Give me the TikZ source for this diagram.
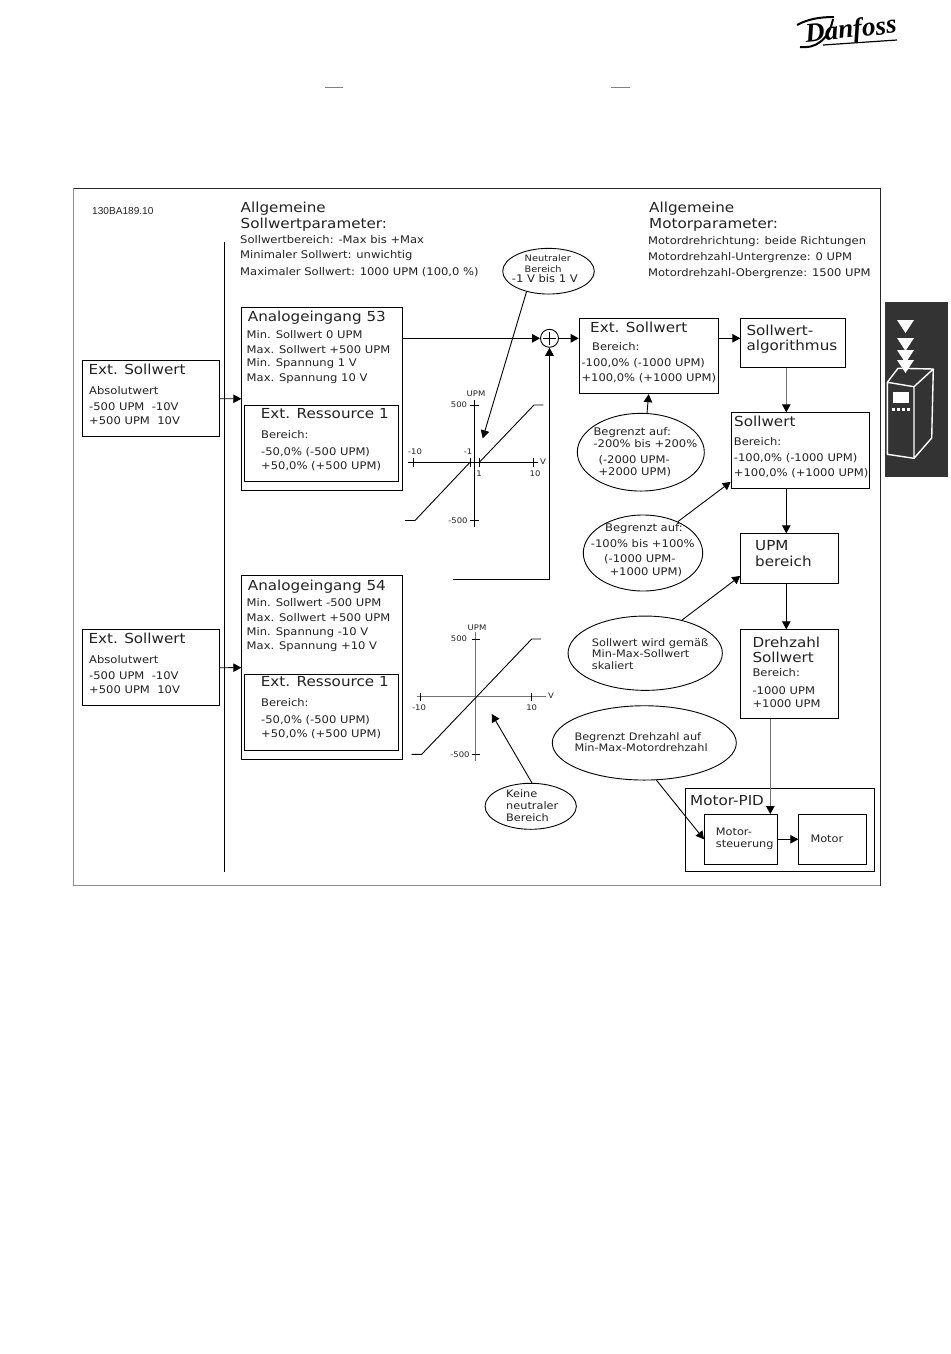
\documentclass[tikz,border=0pt]{standalone}
\usepackage{fontspec}
\setmainfont{DejaVu Sans}[FakeStretch=1.1]
\newfontfamily\codefont{Liberation Sans}
\newfontfamily\logofont{Liberation Serif}
\usetikzlibrary{shapes.geometric, arrows.meta}

\definecolor{inktxt}{HTML}{222222}
\definecolor{tabgrey}{HTML}{333333}

\tikzset{
    box/.style = {draw, rectangle, anchor = north west, inner sep = 0pt, line width = 0.9pt},
    oval/.style = {draw, ellipse, inner sep = 0pt, line width = 0.9pt},
    arr/.style = {-{Triangle[length = 8pt, width = 8.5pt, color = black]}, line width = 0.9pt},
    greyarr/.style = {arr, draw = black!55},
    head/.style = {anchor = base west, inner sep = 0pt, text = inktxt, font = \fontsize{13.8}{16}\selectfont},
    body/.style = {anchor = base west, inner sep = 0pt, text = inktxt, font = \fontsize{10.5}{12}\selectfont},
    note/.style = {anchor = base west, inner sep = 0pt, text = inktxt, font = \fontsize{10.3}{12}\selectfont},
    tick/.style = {anchor = center, inner sep = 0pt, text = inktxt, font = \fontsize{7.7}{9}\selectfont}
}

\begin{document}
\begin{tikzpicture}[x = 1pt, y = -1pt]
            \useasboundingbox (0,0) rectangle (950,1354);
            % page furniture
            \draw[black!50, line width = 0.9pt] (325,87) -- (343,87) (611,87) -- (630,87);
            \node[anchor = center, inner sep = 0pt, rotate = 6, font = \logofont\bfseries\itshape\fontsize{27}{27}\selectfont] (logo) at (851,31) {Danfoss};
            \draw[line width = 1.2pt] (823,45) -- (897,40);
            \draw[line width = 2pt] (797,25) .. controls (808,19) and (820,17) .. (834,17);
            \draw[line width = 2pt] (800,47) .. controls (815,49) and (829,40) .. (833,19);
            \fill[tabgrey] (885,302) rectangle (948,477);
            \foreach \y in {320,338,350,360}
                \fill[white] (897,\y) -- (914,\y) -- (905.5,\y+13) -- cycle;
            \draw[white, line width = 1.4pt, line join = round] (887.3,382.3) -- (914,386.7) -- (914,458.3) -- (887.3,454.3) -- cycle
                (887.3,382.3) -- (898,368.3) -- (933.3,369) -- (914,386.7) (933.3,369) -- (931.7,438) -- (914,458.3);
            \fill[white] (892.7,391.7) rectangle (909.3,403);
            \foreach \x in {892,897,902,907}
                \fill[white] (\x,407.5) rectangle (\x+3,411);

            % frame and divider
            \draw[black!45, line width = 1.3pt] (73.5,188.5) rectangle (880.5,885.5);
            \draw[black!85, line width = 0.8pt] (73.5,188.5) -- (880.5,188.5) -- (880.5,885.5);
            \draw[line width = 0.9pt] (224.3,241.7) -- (224.3,871.7);
            \node[anchor = base west, inner sep = 0pt, text = inktxt, font = \codefont\fontsize{10.1}{12}\selectfont] (code) at (92,214) {130BA189.10};

            % general parameters
            \node[head] (gen1a) at (240.5,212.3) {Allgemeine};
            \node[head] (gen1b) at (240.5,228.3) {Sollwertparameter:};
            \foreach \y/\t [count = \i] in {243.3/Sollwertbereich: -Max bis +Max, 258.3/Minimaler Sollwert: unwichtig, 275.7/Maximaler Sollwert: 1000 UPM (100{,}0 \%)}
                \node[body] (gen1l\i) at (240,\y) {\t};
            \node[head] (gen2a) at (649,212.3) {Allgemeine};
            \node[head] (gen2b) at (649,228.3) {Motorparameter:};
            \foreach \y/\t [count = \i] in {244.3/Motordrehrichtung: beide Richtungen, 260/Motordrehzahl-Untergrenze: 0 UPM, 276.7/Motordrehzahl-Obergrenze: 1500 UPM}
                \node[body] (gen2l\i) at (648,\y) {\t};

            % left inputs
            \foreach \n/\d in {1/0, 2/269} {
                \node[box, minimum width = 137, minimum height = 76] (ext\n) at (82.3,360.3+\d) {};
                \node[head] (ext\n h) at (88.3,374.3+\d) {Ext. Sollwert};
                \node[body] (ext\n a) at (89,394.3+\d) {Absolutwert};
                \node[body] (ext\n b) at (89,410.6+\d) {-500 UPM\ \ -10V};
                \node[body] (ext\n c) at (89,424.6+\d) {+500 UPM\ \ 10V};
            }

            % analog inputs
            \node[box, minimum width = 161, minimum height = 183.3] (ain53) at (241.3,306.7) {};
            \node[box, minimum width = 161, minimum height = 184.3] (ain54) at (241.3,575) {};
            \node[head] (ain53h) at (247.7,321) {Analogeingang 53};
            \node[head] (ain54h) at (247.7,590) {Analogeingang 54};
            \foreach \y/\t [count = \i] in {338.3/Min. Sollwert 0 UPM, 353/Max. Sollwert +500 UPM, 366.7/Min. Spannung 1 V, 381/Max. Spannung 10 V}
                \node[body] (ain53l\i) at (246.5,\y) {\t};
            \foreach \y/\t [count = \i] in {606.7/Min. Sollwert -500 UPM, 621.3/Max. Sollwert +500 UPM, 635/Min. Spannung -10 V, 649.3/Max. Spannung +10 V}
                \node[body] (ain54l\i) at (246.5,\y) {\t};
            \foreach \n/\d in {1/0, 2/268.3} {
                \node[box, minimum width = 153.4, minimum height = 76] (res\n) at (244.3,405.3+\d) {};
                \node[head] (res\n h) at (260.7,418+\d) {Ext. Ressource 1};
                \node[body] (res\n a) at (261,438.3+\d) {Bereich:};
                \node[body] (res\n b) at (261,455+\d) {-50{,}0\% (-500 UPM)};
                \node[body] (res\n c) at (261,469.3+\d) {+50{,}0\% (+500 UPM)};
            }
            \draw[arr] (ext1.east) -- (ain53.west);
            \draw[arr] (ext2.east) -- (ain54.west);

            % characteristic 53
            \draw[line width = 0.9pt] (474.3,400) -- (474.3,526.7) (408.3,462.3) -- (538,462.3);
            \draw[line width = 0.9pt] (470,405) -- (478.5,405) (470,520.7) -- (478.5,520.7);
            \foreach \x in {413.3,470,479.3,533}
                \draw[line width = 0.9pt] (\x,458) -- (\x,466.5);
            \draw[line width = 0.9pt] (405,520.5) -- (415,520.5) -- (470,462.3) (479.3,462.3) -- (534,405) -- (543.3,405);
            \node[tick] (a1) at (476,394) {UPM};
            \node[tick] (a2) at (459,405) {500};
            \node[tick] (a3) at (458,521) {-500};
            \node[tick] (a4) at (415,452) {-10};
            \node[tick] (a5) at (468,452) {-1};
            \node[tick] (a6) at (479,474) {1};
            \node[tick] (a7) at (535,474) {10};
            \node[tick] (a8) at (543,462) {V};

            % characteristic 54
            \draw[black!55, line width = 1.1pt] (475.7,631.7) -- (475.7,761) (416.7,696.7) -- (546,696.7);
            \draw[line width = 0.9pt] (471.5,639) -- (480,639) (471.5,754.3) -- (480,754.3) (420.7,692.5) -- (420.7,700.5) (531.7,692.5) -- (531.7,700.5);
            \draw[line width = 0.9pt] (411.7,754.3) -- (421.7,754.3) -- (531.7,639) -- (541,639);
            \node[tick] (b1) at (477,628) {UPM};
            \node[tick] (b2) at (459,639) {500};
            \node[tick] (b3) at (460,754.5) {-500};
            \node[tick] (b4) at (419,708) {-10};
            \node[tick] (b5) at (531.7,708) {10};
            \node[tick] (b6) at (551,696) {V};

            % summing point and right chain
            \node[draw, circle, inner sep = 0pt, minimum size = 18, line width = 0.9pt] (sum) at (549.5,338.3) {};
            \draw[line width = 0.9pt] ([xshift = 3]sum.west) -- ([xshift = -3]sum.east) ([yshift = -3]sum.north) -- ([yshift = 3]sum.south);
            \node[box, minimum width = 139, minimum height = 75.6] (extsw) at (578.7,317.7) {};
            \node[box, minimum width = 104.7, minimum height = 49.6] (alg) at (740.3,317.7) {};
            \node[box, minimum width = 138.6, minimum height = 75.7] (soll) at (730.7,412.3) {};
            \node[box, minimum width = 98, minimum height = 50] (upm) at (740.3,533.3) {};
            \node[box, minimum width = 98, minimum height = 89] (dreh) at (740.3,629.3) {};
            \node[box, minimum width = 189, minimum height = 82.7] (pid) at (685.3,788.3) {};
            \node[box, minimum width = 73, minimum height = 49.7] (mctl) at (704,814) {};
            \node[box, minimum width = 67.4, minimum height = 49.7] (mot) at (798.3,814) {};

            \node[head] (extswh) at (590,332.7) {Ext. Sollwert};
            \node[body] (extswa) at (592,350) {Bereich:};
            \node[body] (extswb) at (581.3,366.7) {-100{,}0\% (-1000 UPM)};
            \node[body] (extswc) at (581.3,381.7) {+100{,}0\% (+1000 UPM)};
            \node[head] (alga) at (746.3,335) {Sollwert-};
            \node[head] (algb) at (746.3,350.3) {algorithmus};
            \node[head] (sollh) at (734,426) {Sollwert};
            \node[body] (solla) at (733.7,445) {Bereich:};
            \node[body] (sollb) at (733.7,461.7) {-100{,}0\% (-1000 UPM)};
            \node[body] (sollc) at (733.7,476) {+100{,}0\% (+1000 UPM)};
            \node[head] (upma) at (755,550.7) {UPM};
            \node[head] (upmb) at (755,566.7) {bereich};
            \node[head] (dreha) at (752.3,647.3) {Drehzahl};
            \node[head] (drehb) at (752.3,662.7) {Sollwert};
            \node[body] (drehc) at (752.3,676.7) {Bereich:};
            \node[body] (drehd) at (752.3,694) {-1000 UPM};
            \node[body] (drehe) at (752.3,707.7) {+1000 UPM};
            \node[head] (pidh) at (690,805.7) {Motor-PID};
            \node[note] (mctla) at (715.7,835.7) {Motor-};
            \node[note] (mctlb) at (715.7,847) {steuerung};
            \node[note] (mota) at (810.3,842) {Motor};

            % ovals
            \node[oval, minimum width = 91.6, minimum height = 45.7] (neutral) at (548.5,271.2) {};
            \node[oval, minimum width = 127, minimum height = 77.7] (limita) at (640.8,452.2) {};
            \node[oval, minimum width = 119.4, minimum height = 76] (limitb) at (643,553) {};
            \node[oval, minimum width = 154.3, minimum height = 74.3] (scale) at (645.2,653.2) {};
            \node[oval, minimum width = 184, minimum height = 74.3] (limitc) at (644.3,742.9) {};
            \node[oval, minimum width = 91.3, minimum height = 46] (noneutral) at (530.7,806.3) {};

            \node[note, font = \fontsize{8.9}{10}\selectfont] (neutrala) at (524.5,261.7) {Neutraler};
            \node[note, font = \fontsize{8.9}{10}\selectfont] (neutralb) at (524.5,272.3) {Bereich};
            \node[body] (neutralc) at (511.7,282.7) {-1 V bis 1 V};
            \node[body] (limitaa) at (593.3,435) {Begrenzt auf:};
            \node[body] (limitab) at (593.3,447) {-200\% bis +200\%};
            \node[body] (limitac) at (598.3,463.3) {(-2000 UPM-};
            \node[body] (limitad) at (598.3,475.7) {+2000 UPM)};
            \node[body] (limitba) at (605,531) {Begrenzt auf:};
            \node[body] (limitbb) at (590.7,547.7) {-100\% bis +100\%};
            \node[body] (limitbc) at (604,562.7) {(-1000 UPM-};
            \node[body] (limitbd) at (609.3,575) {+1000 UPM)};
            \node[note] (scalea) at (591.7,646) {Sollwert wird gemäß};
            \node[note] (scaleb) at (591.7,657.7) {Min-Max-Sollwert};
            \node[note] (scalec) at (591.7,669.3) {skaliert};
            \node[note] (limitca) at (574.3,740) {Begrenzt Drehzahl auf};
            \node[note] (limitcb) at (574.3,751.7) {Min-Max-Motordrehzahl};
            \node[note] (noneutrala) at (506,797.7) {Keine};
            \node[note] (noneutralb) at (506,809.3) {neutraler};
            \node[note] (noneutralc) at (506,821) {Bereich};

            % connectors
            \coordinate (col) at (786.3,0);
            \coordinate (colb) at (770.3,0);
            \coordinate (backstart) at (453.3,579);
            \coordinate (neutip) at (482.7,438.3);
            \coordinate (keintip) at (491.7,714);
            \draw[arr] (ain53.east |- sum) -- (sum);
            \draw[arr] (sum) -- (extsw.west |- sum);
            \draw[arr] (backstart) -- (backstart -| sum) -- (sum);
            \draw[arr] (extsw.east |- sum) -- (alg.west |- sum);
            \draw[greyarr] (alg.south -| col) -- (soll.north -| col);
            \draw[arr] (soll.south -| col) -- (upm.north -| col);
            \draw[arr] (upm.south -| col) -- (dreh.north -| col);
            \draw[greyarr] (dreh.south -| colb) -- (mctl.north -| colb);
            \draw[arr] (mctl) -- (mot);
            \draw[arr] (neutral.223) -- (neutip);
            \draw[arr] (limita.81) -- (extsw.south);
            \draw[arr] (limitb.42) -- ([yshift = 7]soll.south west);
            \draw[arr] (scale.42) -- ([yshift = 8.3]upm.south west);
            \draw[arr] (limitc.288) -- (mctl.west);
            \draw[arr] (noneutral.87) -- (keintip);
\end{tikzpicture}
\end{document}
